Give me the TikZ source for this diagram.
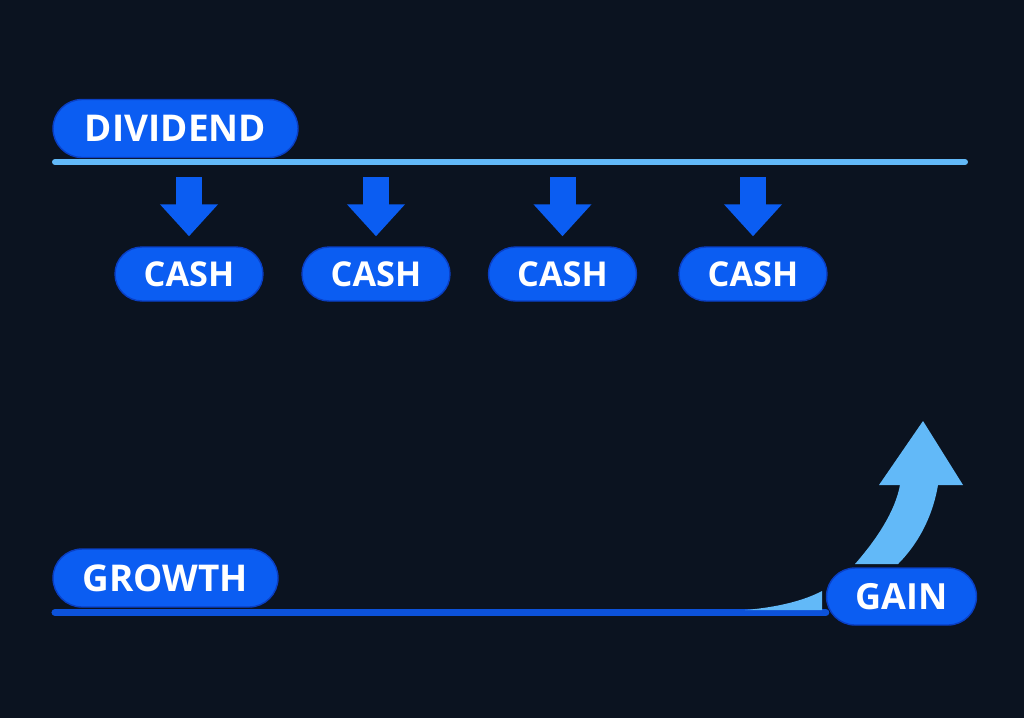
\documentclass[tikz,border=0pt]{standalone}
\usepackage{fontspec}
\setmainfont{Open Sans}
\usepackage{tikz}
\usetikzlibrary{positioning, shapes.misc, arrows.meta}
\definecolor{mybg}{HTML}{0B1320}
\definecolor{myblue}{HTML}{0B5DF2}
\definecolor{myblueline}{HTML}{0A3FC4}
\definecolor{mylight}{HTML}{62B9F8}
\definecolor{mydeep}{HTML}{0C52DA}
\tikzset{
	pillnode/.style={
			rounded rectangle,
			draw=myblueline,
			fill=myblue,
			line width=0.8pt,
			text=white,
			font=\bfseries\fontsize{21}{23}\selectfont,
			minimum height=1.16cm,
			inner sep=0pt
		},
	cashnode/.style={
			pillnode,
			font=\bfseries\fontsize{19.5}{21}\selectfont,
			minimum width=2.96cm,
			minimum height=1.08cm
		},
	dropline/.style={
			draw=myblue,
			line width=0.52cm,
			-{Triangle[length=0.64cm, width=1.12cm]},
			shorten >=0.2cm
		}
}

\begin{document}
\begin{tikzpicture}[x=0.02cm, y=-0.02cm]
\useasboundingbox[fill=mybg] (0,0) rectangle (1024,718);

\node[pillnode, minimum width=4.9cm] (tDiv) at (175.5,128.5) {DIVIDEND};
\node[cashnode] (tCash1) at (189,274) {CASH};
\node[cashnode] (tCash2) at (376,274) {CASH};
\node[cashnode] (tCash3) at (562.5,274) {CASH};
\node[cashnode] (tCash4) at (753,274) {CASH};

\coordinate (tDivL) at (55,162);
\coordinate (tDivR) at (965,162);
\draw[mylight, line width=3.4pt, line cap=round] (tDivL) -- (tDivR);

\coordinate (tDrop1) at (189,177);
\coordinate (tDrop2) at (376,177);
\coordinate (tDrop3) at (562.5,177);
\coordinate (tDrop4) at (753,177);

\draw[dropline] (tDrop1) -- (tCash1.north);
\draw[dropline] (tDrop2) -- (tCash2.north);
\draw[dropline] (tDrop3) -- (tCash3.north);
\draw[dropline] (tDrop4) -- (tCash4.north);

% growth part
\node[pillnode, minimum width=4.5cm] (tGrow) at (165.5,578) {GROWTH};
\node[pillnode, font=\bfseries\fontsize{20.5}{22}\selectfont, minimum width=3cm, minimum height=1.14cm] (tGain) at (901.5,596.5) {GAIN};

\coordinate (tGrowL) at (55,612.5);
\draw[mydeep, line width=4pt, line cap=round] (tGrowL) -- (tGrowL -| tGain.west);

\fill[mylight] (745,610) .. controls (780,607) and (805,600) .. (822,591) -- (822,610) -- cycle;

\fill[mylight] (855,564) .. controls (876,540) and (895,512) .. (900,485)
  -- (879,485) -- (923,421) -- (963,485) -- (938,485)
  .. controls (932,520) and (916,546) .. (898,564) -- cycle;

\end{tikzpicture}
\end{document}
